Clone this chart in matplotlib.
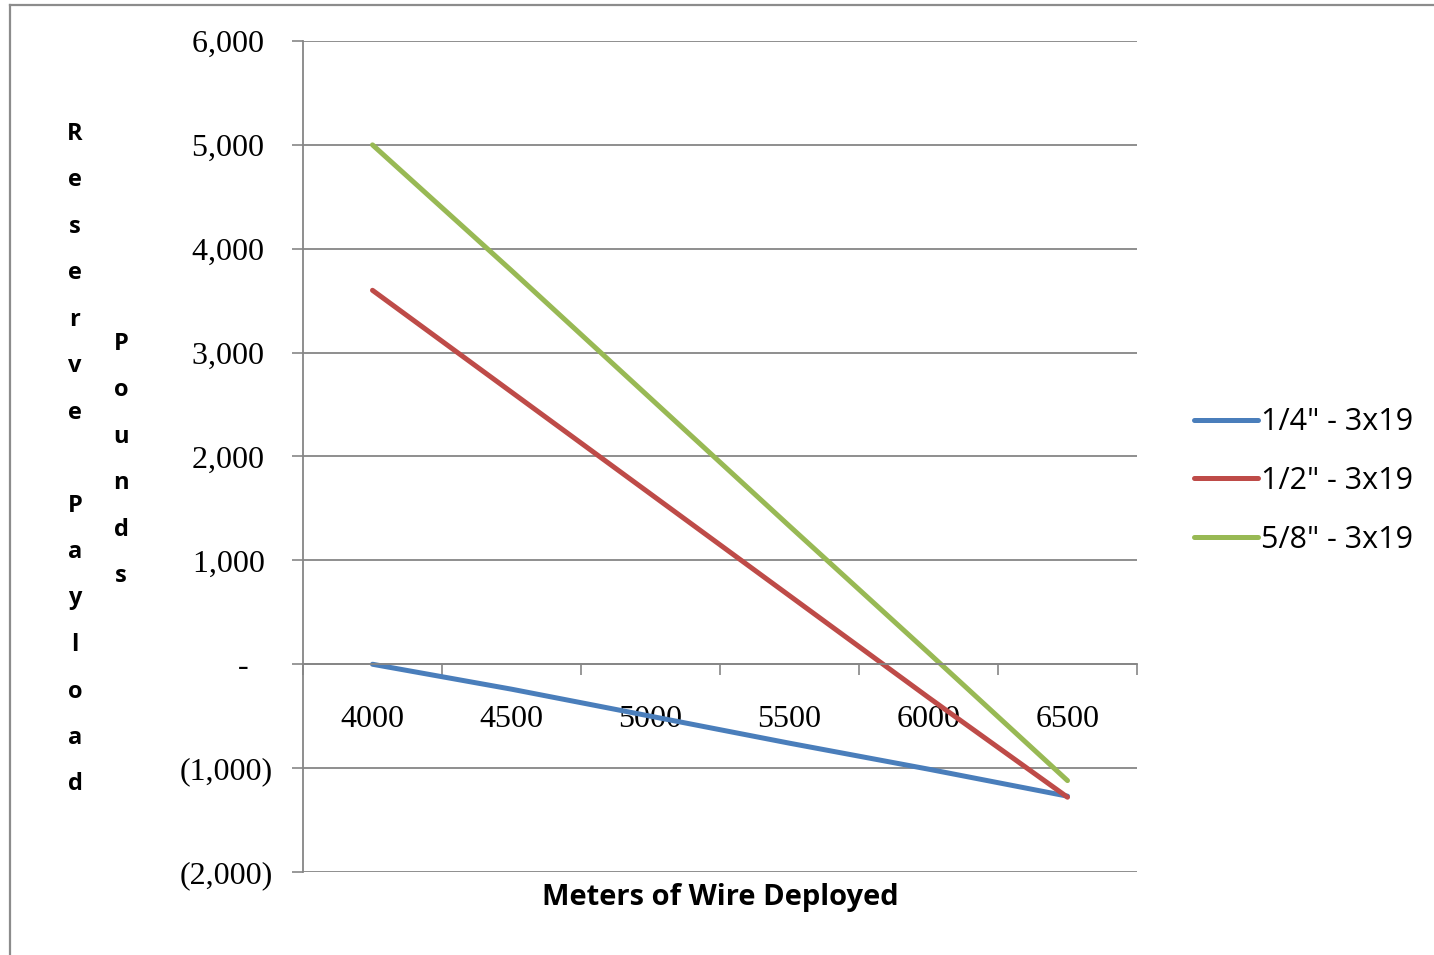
import matplotlib.pyplot as plt
from matplotlib.lines import Line2D
from matplotlib.ticker import FixedLocator, FuncFormatter

# wire length deployed (m) and reserve payload (lb) per cable size
distances = ['4000', '4500', '5000', '5500', '6000', '6500']
quarter_3x19 = [0, -240, -500, -760, -1010, -1270]
half_3x19 = [3600, 2620, 1640, 660, -320, -1280]
five_eighths_3x19 = [5000, 3790, 2560, 1330, 110, -1120]

series_names = ['1/4" - 3x19', '1/2" - 3x19', '5/8" - 3x19']
series_colors = ['#4A7EBB', '#BE4B48', '#98B954']

y_ticks = [-2000, -1000, 0, 1000, 2000, 3000, 4000, 5000, 6000]

grid_col = '#868686'
serif = 'Liberation Serif'
sans = 'Open Sans'


def accounting(v, pos=None):
    # Excel style: thousands separator, negatives in parentheses, zero as dash
    if v == 0:
        return '-   '
    if v < 0:
        return '({:,.0f})'.format(-v)
    return '{:,.0f} '.format(v)


fig = plt.figure(figsize=(14.34, 9.55), dpi=100)
ax = fig.add_axes([303 / 1434, 1 - 872 / 955, 834 / 1434, 831 / 955])

x = list(range(len(distances)))
for vals, name, col in zip([quarter_3x19, half_3x19, five_eighths_3x19],
                           series_names, series_colors):
    ax.plot(x, vals, color=col, lw=3.6, solid_capstyle='round', label=name)

ax.set_xlim(-0.5, len(distances) - 0.5)
ax.set_ylim(-2000, 6000)

# y axis
ax.yaxis.set_major_locator(FixedLocator(y_ticks))
ax.yaxis.set_major_formatter(FuncFormatter(accounting))
ax.tick_params(axis='y', direction='out', length=8, width=1.2, color=grid_col,
               pad=14, labelsize=23)
for t in ax.get_yticklabels():
    t.set_fontfamily(serif)
ax.yaxis.grid(True, color=grid_col, lw=1.3)
ax.set_axisbelow(True)

# category x axis crossing at zero: ticks between categories, labels centred
ax.spines['bottom'].set_position(('data', 0))
ax.spines['bottom'].set_color(grid_col)
ax.spines['bottom'].set_linewidth(1.3)
ax.spines['left'].set_color(grid_col)
ax.spines['left'].set_linewidth(1.3)
ax.spines['top'].set_visible(False)
ax.spines['right'].set_visible(False)

ax.set_xticks([i - 0.5 for i in range(len(distances) + 1)])
ax.set_xticklabels([])
ax.set_xticks(x, minor=True)
ax.set_xticklabels(distances, minor=True, fontfamily=serif, fontsize=23)
ax.tick_params(axis='x', which='major', direction='out', length=8, width=1.2,
               color=grid_col)
ax.tick_params(axis='x', which='minor', length=0, pad=29)

# axis titles
fig.text(720 / 1434, 1 - 898 / 955, 'Meters of Wire Deployed', ha='center',
         va='center', fontsize=21, fontweight='bold', family=sans)
fig.text(75 / 1434, 1 - 459 / 955, '\n'.join('Reserve Payload'), ha='center',
         va='center', fontsize=17, fontweight='bold', family=sans,
         linespacing=2.25)
fig.text(121 / 1434, 1 - 460 / 955, '\n'.join('Pounds'), ha='center',
         va='center', fontsize=17, fontweight='bold', family=sans,
         linespacing=2.25)

fig.legend(loc='center left', bbox_to_anchor=(1166 / 1434, 1 - 481 / 955),
           frameon=False, prop={'family': sans, 'size': 22},
           handlelength=2.1, handletextpad=0.1, labelspacing=0.94)

# chart area border
fig.add_artist(Line2D([10 / 1434, 1], [1 - 5 / 955, 1 - 5 / 955],
                      transform=fig.transFigure, color='#8C8C8C', lw=1.6))
fig.add_artist(Line2D([10 / 1434, 10 / 1434], [0, 1 - 5 / 955],
                      transform=fig.transFigure, color='#8C8C8C', lw=1.6))

fig.savefig('out.png', dpi=100)
